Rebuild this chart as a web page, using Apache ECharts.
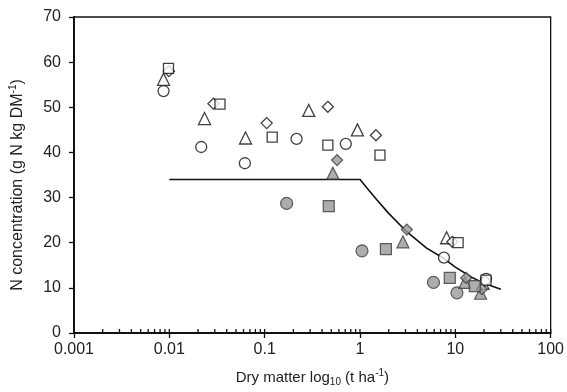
<!DOCTYPE html>
<html>
<head>
<meta charset="utf-8">
<script src="https://cdn.jsdelivr.net/npm/echarts@6.0.0/dist/echarts.min.js"></script>
<style>
  html, body { margin: 0; padding: 0; background: #fff; }
  #chart { width: 567px; height: 392px; }
</style>
</head>
<body>
<div id="chart"></div>
<script>
// values: [dry matter t/ha, N g/kg]
const openCircle = [[0.0087, 53.6], [0.0216, 41.2], [0.062, 37.6], [0.216, 43.0], [0.71, 41.9], [7.6, 16.7], [21, 12.0]]
const openTriangle = [[0.0087, 56.2], [0.0234, 47.5], [0.063, 43.2], [0.29, 49.3], [0.94, 45.0], [8.1, 21.1], [19.5, 11.0]]
const openDiamond = [[0.0099, 58.0], [0.029, 50.8], [0.105, 46.5], [0.46, 50.1], [1.47, 43.8], [9.3, 20.2], [20.5, 11.5]]
const openSquare = [[0.0098, 58.6], [0.034, 50.7], [0.12, 43.4], [0.46, 41.6], [1.62, 39.4], [10.7, 20.0], [21, 11.7]]
const greyCircle = [[0.17, 28.7], [1.05, 18.2], [5.9, 11.2], [10.4, 8.9]]
const greyTriangle = [[0.52, 35.4], [2.82, 20.2], [12.6, 11.2], [18.4, 8.8]]
const greyDiamond = [[0.575, 38.3], [3.1, 22.9], [13, 12.2], [19, 9.7]]
const greySquare = [[0.47, 28.1], [1.87, 18.6], [8.75, 12.2], [16, 10.4]]
const dilutionCurve = [[0.01, 34], [1.0, 34], [1.25, 31.5], [1.5, 29.5], [2, 26.5], [3, 22.7], [5, 18.8], [7.6, 16.5], [10, 14.6], [15, 12.3], [20, 11.0], [30, 9.7]]

const xTickLabels = ['0.001', '0.01', '0.1', '1', '10', '100']
const yMin = 0
const yMax = 70

// minor ticks of the log axis (2..9 in each decade), majors included for the inner part
const logTicks = []
for (let e = -3; e < 2; e++) {
  for (let m = 1; m <= 9; m++) logTicks.push([m * Math.pow(10, e), 0])
}
logTicks.push([100, 0])

const chart = echarts.init(document.getElementById('chart'))

const ink = '#111'
const txt = '#222'
const font = 'Liberation Sans'
const openStyle = { color: '#fff', borderColor: ink, borderWidth: 1.3 }
const greyStyle = { color: '#999', borderColor: '#3a3a3a', borderWidth: 1.2 }

function scatter(data, symbol, size, style) {
  return {
    type: 'scatter',
    data: data,
    symbol: symbol,
    symbolSize: size,
    itemStyle: style,
    z: 3
  }
}

chart.setOption({
  animation: false,
  grid: {
    left: 71,
    right: 14,
    top: 17,
    bottom: 53,
    show: true,
    borderColor: ink,
    borderWidth: 1.3
  },
  xAxis: {
    type: 'log',
    logBase: 10,
    min: 0.001,
    max: 100,
    name: '{a|Dry matter log}{sub|10}{a| (t ha}{sup|-1}{a|)}',
    nameLocation: 'middle',
    nameGap: 35,
    nameTextStyle: {
      rich: {
        a: { fontSize: 15, color: txt, fontFamily: font },
        sub: { fontSize: 10, color: txt, fontFamily: font, padding: [9, 0, 0, 0] },
        sup: { fontSize: 10, color: txt, fontFamily: font, padding: [0, 0, 9, 0] }
      }
    },
    axisLine: { lineStyle: { color: ink, width: 2 } },
    axisTick: { length: 5, lineStyle: { color: ink, width: 1.3 } },
    axisLabel: {
      fontSize: 16,
      color: txt,
      fontFamily: font,
      margin: 9,
      formatter: v => xTickLabels[Math.round(Math.log10(v)) + 3]
    },
    splitLine: { show: false }
  },
  yAxis: {
    type: 'value',
    min: yMin,
    max: yMax,
    interval: 10,
    name: '{a|N concentration (g N kg DM}{sup|-1}{a|)}',
    nameLocation: 'middle',
    nameGap: 47,
    nameTextStyle: {
      padding: [0, 20, 0, 0],
      rich: {
        a: { fontSize: 16, color: txt, fontFamily: font },
        sup: { fontSize: 10, color: txt, fontFamily: font, padding: [0, 0, 9, 0] }
      }
    },
    axisLine: { show: true, lineStyle: { color: ink, width: 2 } },
    axisTick: { show: true, length: 5, lineStyle: { color: ink, width: 1.3 } },
    axisLabel: { fontSize: 16, color: txt, fontFamily: font, margin: 13 },
    splitLine: { show: false }
  },
  series: [
    {
      type: 'line',
      data: dilutionCurve,
      showSymbol: false,
      lineStyle: { color: ink, width: 1.6 },
      z: 2
    },
    scatter(openCircle, 'circle', 11, openStyle),
    scatter(openTriangle, 'triangle', 12, openStyle),
    scatter(openDiamond, 'diamond', 11, openStyle),
    scatter(openSquare, 'rect', 10, openStyle),
    scatter(greyCircle, 'circle', 12, greyStyle),
    scatter(greyTriangle, 'triangle', 12, greyStyle),
    scatter(greyDiamond, 'diamond', 11, greyStyle),
    scatter(greySquare, 'rect', 11, greyStyle),
    {
      type: 'custom',
      data: logTicks,
      silent: true,
      clip: false,
      z: 4,
      renderItem: function(params, api) {
        const p = api.coord([api.value(0), api.value(1)])
        return {
          type: 'line',
          shape: { x1: p[0], y1: p[1], x2: p[0], y2: p[1] - 4 },
          style: { stroke: ink, lineWidth: 1.3 }
        }
      }
    }
  ]
})
</script>
</body>
</html>
